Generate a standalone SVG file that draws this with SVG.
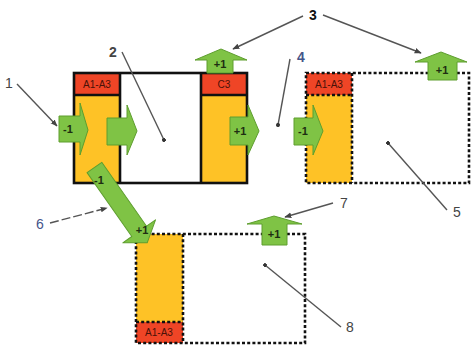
<svg xmlns="http://www.w3.org/2000/svg" width="471" height="347" viewBox="0 0 471 347">
  <defs>
    <style>
      .yel { fill: #fec226; }
      .red { fill: #ef4526; }
      .solid { fill: none; stroke: #111; stroke-width: 2.6; }
      .dot { fill: none; stroke: #111; stroke-width: 2.6; stroke-dasharray: 3 2.2; }
      .arr { fill: #7fc345; stroke: #5e9e2f; stroke-width: 1; stroke-linejoin: round; }
      .atxt { font-family: "Liberation Sans", Arial, sans-serif; font-size: 11px; font-weight: bold; fill: #1e2e12; text-anchor: middle; }
      .htxt { font-family: "Liberation Sans", Arial, sans-serif; font-size: 10px; fill: #4a1208; text-anchor: middle; }
      .num { font-family: "Liberation Sans", Arial, sans-serif; font-size: 14px; fill: #444; text-anchor: middle; }
      .blue { fill: #45558a; font-weight: bold; }
      .lead { fill: none; stroke: #555; stroke-width: 1.4; }
    </style>
    <marker id="tip" viewBox="0 0 10 10" refX="9" refY="5" markerWidth="7" markerHeight="7" orient="auto" markerUnits="userSpaceOnUse">
      <path d="M0,1 L10,5 L0,9 Z" fill="#444"/>
    </marker>
    <marker id="dotEnd" viewBox="0 0 6 6" refX="3" refY="3" markerWidth="4" markerHeight="4" orient="auto" markerUnits="userSpaceOnUse">
      <circle cx="3" cy="3" r="3" fill="#333"/>
    </marker>
  </defs>

  <!-- solid building block: A1-A3 | interior | C3 -->
  <g id="block-main">
    <rect class="yel" x="74" y="73" width="46" height="110"/>
    <rect class="red" x="74" y="73" width="46" height="22"/>
    <rect class="yel" x="201" y="73" width="46" height="110"/>
    <rect class="red" x="201" y="73" width="46" height="22"/>
    <rect class="solid" x="74" y="73" width="173" height="110"/>
    <line class="solid" x1="74" y1="95" x2="120" y2="95"/>
    <line class="solid" x1="120" y1="73" x2="120" y2="183"/>
    <line class="solid" x1="201" y1="73" x2="201" y2="183"/>
    <line class="solid" x1="201" y1="95" x2="247" y2="95"/>
    <text class="htxt" x="97" y="88">A1-A3</text>
    <text class="htxt" x="224" y="88">C3</text>
  </g>

  <!-- dotted block on the right -->
  <g id="block-right">
    <rect class="yel" x="306" y="73" width="46" height="110"/>
    <rect class="red" x="306" y="73" width="46" height="22"/>
    <rect class="dot" x="306" y="73" width="163" height="110"/>
    <line class="dot" x1="306" y1="95" x2="352" y2="95"/>
    <line class="dot" x1="352" y1="73" x2="352" y2="183"/>
    <text class="htxt" x="329" y="88">A1-A3</text>
  </g>

  <!-- dotted block at the bottom -->
  <g id="block-bottom">
    <rect class="yel" x="136" y="234" width="47" height="109"/>
    <rect class="red" x="136" y="322" width="47" height="21"/>
    <rect class="dot" x="136" y="234" width="169" height="109"/>
    <line class="dot" x1="136" y1="322" x2="183" y2="322"/>
    <line class="dot" x1="183" y1="234" x2="183" y2="343"/>
    <text class="htxt" x="159" y="336">A1-A3</text>
  </g>

  <!-- flow arrows -->
  <g id="arrow-in-left">
    <path class="arr" d="M59,116 H80 V103 L88,130 L80,155 V142 H59 Z"/>
    <text class="atxt" x="68" y="133">-1</text>
  </g>
  <g id="arrow-mid">
    <path class="arr" d="M107,118 H127 V105 L137,131 L127,155 V145 H107 Z"/>
  </g>
  <g id="arrow-out-c3">
    <path class="arr" d="M230,117 H248 V105 L259,131 L248,155 V145 H230 Z"/>
    <text class="atxt" x="240" y="135">+1</text>
  </g>
  <g id="arrow-in-right">
    <path class="arr" d="M294,118 H313 V105 L323,131 L313,155 V145 H294 Z"/>
    <text class="atxt" x="303" y="135">-1</text>
  </g>
  <g id="arrow-up-c3">
    <path class="arr" d="M207,73 V60 H195 L221,49 L247,60 H233 V73 Z"/>
    <text class="atxt" x="220" y="68">+1</text>
  </g>
  <g id="arrow-up-right">
    <path class="arr" d="M428,80 V62 H415 L441,52 L467,62 H457 V80 Z"/>
    <text class="atxt" x="442" y="74">+1</text>
  </g>
  <g id="arrow-up-bottom">
    <path class="arr" d="M262,245 V224 H247 L274,216 L302,224 H287 V245 Z"/>
    <text class="atxt" x="274" y="238">+1</text>
  </g>
  <g id="arrow-diagonal">
    <path class="arr" transform="translate(99,174) rotate(55)" d="M-8,-9 H70 V-20 L84,0 L70,20 V9 H-8 Z"/>
    <text class="atxt" x="99" y="184">-1</text>
    <text class="atxt" x="142" y="234">+1</text>
  </g>

  <!-- numbered callouts -->
  <g id="connectors">
    <line class="lead" x1="17" y1="84" x2="57" y2="126" marker-end="url(#tip)"/>
    <line class="lead" x1="122" y1="52" x2="164" y2="140" marker-end="url(#dotEnd)"/>
    <line class="lead" x1="303" y1="16" x2="233" y2="49" marker-end="url(#tip)"/>
    <line class="lead" x1="323" y1="15" x2="421" y2="53" marker-end="url(#tip)"/>
    <line class="lead" x1="290" y1="59" x2="278" y2="125" marker-end="url(#dotEnd)"/>
    <line class="lead" x1="447" y1="210" x2="388" y2="143" marker-end="url(#dotEnd)"/>
    <line class="lead" x1="50" y1="223" x2="107" y2="208" stroke-dasharray="9 3" marker-end="url(#tip)"/>
    <line class="lead" x1="333" y1="203" x2="285" y2="217" marker-end="url(#tip)"/>
    <line class="lead" x1="341" y1="327" x2="265" y2="265" marker-end="url(#dotEnd)"/>
  </g>

  <g id="labels">
    <text class="num" x="9" y="88">1</text>
    <text class="num" x="113" y="57" style="font-weight:bold">2</text>
    <text class="num" x="313" y="20" style="fill:#111;font-weight:bold">3</text>
    <text class="num blue" x="301" y="62">4</text>
    <text class="num" x="457" y="217">5</text>
    <text class="num blue" x="40" y="229" style="font-weight:normal">6</text>
    <text class="num" x="344" y="208">7</text>
    <text class="num" x="350" y="332">8</text>
  </g>
</svg>
